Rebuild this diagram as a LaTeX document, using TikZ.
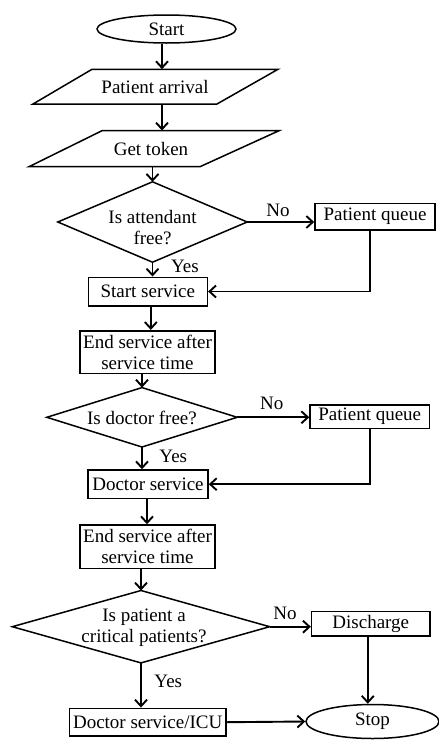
\documentclass[tikz,border=0pt]{standalone}
\usepackage{fontspec}
\setmainfont{Liberation Serif}
\usetikzlibrary{shapes.geometric,arrows.meta}
\begin{document}
\begin{tikzpicture}[x=1pt,y=-1pt,
  font=\fontsize{19}{21}\selectfont,
  box/.style={draw,line width=1.6pt,rectangle,inner sep=0pt,align=center},
  ell/.style={draw,line width=1.5pt,ellipse,inner sep=0pt},
  hold/.style={rectangle,inner sep=0pt,draw=none},
  shp/.style={line width=1.5pt,line join=miter},
  lbl/.style={inner sep=0pt,align=center},
  arr/.style={line width=1.9pt,-{Straight Barb[length=6.5pt,width=12pt,line width=1.9pt]}},
  ln/.style={line width=1.9pt}]
\useasboundingbox (0,0) rectangle (439,742);
\fill[white] (0,0) rectangle (439,742);

% nodes
\node[ell,minimum width=139,minimum height=28] (start) at (166.5,29) {Start};
\node[hold,minimum width=185,minimum height=34.7] (pa) at (155,86.7) {Patient arrival};
\draw[shp] (92,69.3) -- (278,69.3) -- (217,104) -- (33,104) -- cycle;
\node[hold,minimum width=177,minimum height=36] (gt) at (151,148.7) {Get token};
\draw[shp] (102,130.7) -- (279,130.7) -- (200,166.7) -- (29,166.7) -- cycle;

\node[hold,minimum width=189,minimum height=80] (d1) at (152.5,222) {};
\node[lbl] (d1t) at (152.5,228) {Is attendant\\free?};
\node[box,minimum width=120,minimum height=26.7] (q1) at (375,216.7) {Patient queue};
\node[box,minimum width=119,minimum height=28.4] (ss) at (147.8,291.5) {Start service};
\node[box,minimum width=135,minimum height=42.6] (es1) at (147.5,352) {End service after\\service time};

\node[hold,minimum width=190,minimum height=59] (d2) at (142,417.3) {};
\node[lbl] (d2t) at (142,418) {Is doctor free?};
\node[box,minimum width=119.3,minimum height=23.3] (q2) at (369.7,416.7) {Patient queue};
\node[box,minimum width=120,minimum height=28.3] (ds) at (148,484.2) {Doctor service};
\node[box,minimum width=135,minimum height=43.3] (es2) at (147.5,546.7) {End service after\\service time};

\node[hold,minimum width=257,minimum height=72] (d3) at (141,626.7) {};
\node[lbl] (d3t) at (144,628) {Is patient a\\critical patients?};
\node[box,minimum width=118.3,minimum height=24.3] (dc) at (370.8,623.8) {Discharge};
\node[box,minimum width=156.7,minimum height=27.7] (icu) at (147.7,722.2) {Doctor service/ICU};
\node[ell,minimum width=133,minimum height=34] (stop) at (372.5,721.5) {Stop};

\foreach \d in {d1,d2,d3}
  \draw[shp] (\d.north) -- (\d.east) -- (\d.south) -- (\d.west) -- cycle;

% labels
\node[lbl] (no1) at (278,210) {No};
\node[lbl] (yes1) at (185,266.7) {Yes};
\node[lbl] (no2) at (271.7,403.3) {No};
\node[lbl] (yes2) at (173.3,456.7) {Yes};
\node[lbl] (no3) at (285,613.3) {No};
\node[lbl] (yes3) at (168.3,681.7) {Yes};

% connectors
\draw[arr] ([xshift=-4.5]start.south) -- ([xshift=-4.5]start.south |- pa.north);
\draw[arr] ([xshift=7]pa.south) -- ([xshift=7]pa.south |- gt.north);
\draw[arr] ([xshift=1.5]gt.south) -- (d1.north);
\draw[arr] (d1.east) -- (d1.east -| q1.west);
\draw[arr] ([xshift=-5]q1.south) |- (ss.east);
\draw[arr] (d1.south) -- (d1.south |- ss.north);
\draw[arr] ([xshift=3]ss.south) -- ([xshift=3]ss.south |- es1.north);
\draw[arr] (es1.south -| d2.north) -- (d2.north);
\draw[arr] (d2.east) -- (d2.east -| q2.west);
\draw[arr] (q2.south) |- (ds.east);
\draw[arr] (d2.south) -- (d2.south |- ds.north);
\draw[arr] ([xshift=-1]ds.south) -- ([xshift=-1]ds.south |- es2.north);
\draw[arr] (es2.south -| d3.north) -- (d3.north);
\draw[arr] (d3.east) -- (d3.east -| dc.west);
\draw[arr] ([xshift=-3]dc.south) -- ([xshift=-3]dc.south |- stop.north);
\draw[arr] (d3.south) -- (d3.south |- icu.north);
\draw[arr] (icu.east) -- (stop.west);
\end{tikzpicture}
\end{document}
